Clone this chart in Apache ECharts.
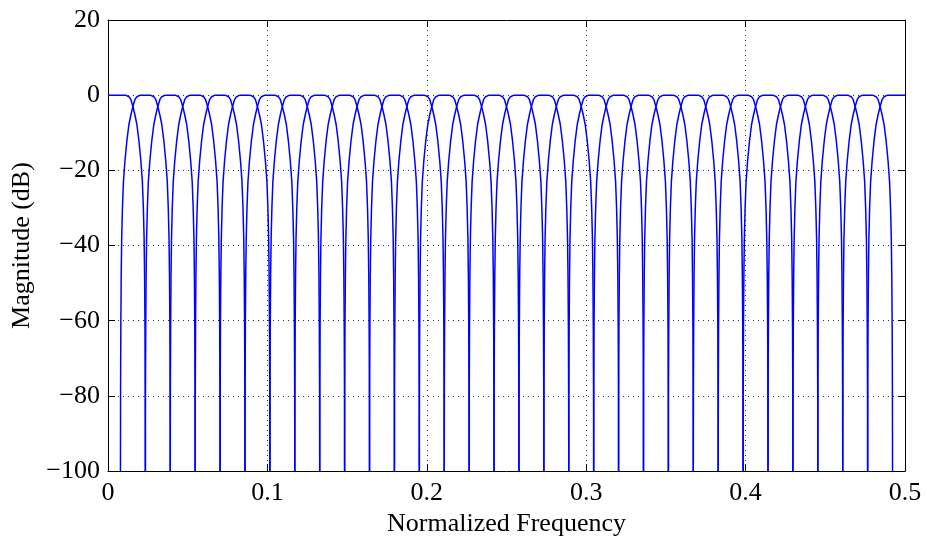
<!DOCTYPE html>
<html lang="en">
<head>
    <meta charset="UTF-8">
    <title>Filter bank magnitude</title>
    <script src="https://cdn.jsdelivr.net/npm/echarts@6/dist/echarts.min.js"></script>
    <style>
        html, body { margin: 0; padding: 0; background: #fff; }
        #chart { width: 927px; height: 542px; }
    </style>
</head>
<body>
    <div id="chart"></div>
    <script>
    // band edges of the 32 channels (normalized frequency, where neighbours cross)
    var bandEdges = [0, 0.015625, 0.03125, 0.046875, 0.0625, 0.078125, 0.09375, 0.109375,
        0.125, 0.140625, 0.15625, 0.171875, 0.1875, 0.203125, 0.21875, 0.234375,
        0.25, 0.265625, 0.28125, 0.296875, 0.3125, 0.328125, 0.34375, 0.359375,
        0.375, 0.390625, 0.40625, 0.421875, 0.4375, 0.453125, 0.46875, 0.484375, 0.5];

    // shape of one transition edge:
    // offset from the crossing point (positive = into the stopband) and level in dB
    var edgeOffset = [-0.00469, -0.00375, -0.0025, -0.00125, 0, 0.00125, 0.0025, 0.00375,
        0.005, 0.00594, 0.00656, 0.00703, 0.00734, 0.00758, 0.00773, 0.00781];
    var edgeDb = [0, -0.1, -0.4, -1.2, -3, -5.2, -7.8, -12, -17.5, -23, -30, -38, -48, -62, -78, -100];

    var xTicks = ['0', '0.1', '0.2', '0.3', '0.4', '0.5'];
    var yTicks = ['-100', '-80', '-60', '-40', '-20', '0', '20'];

    var font = 'Liberation Serif';
    var fs = 26;

    var series = [];
    for (var k = 0; k < bandEdges.length - 1; k++) {
        var a = bandEdges[k], b = bandEdges[k + 1];
        var pts = [];
        if (k == 0) {
            pts.push([a, 0]);
        } else {
            for (var i = edgeOffset.length - 1; i >= 0; i--) {
                pts.push([a - edgeOffset[i], edgeDb[i]]);
            }
        }
        if (k == bandEdges.length - 2) {
            pts.push([b, 0]);
        } else {
            for (var j = 0; j < edgeOffset.length; j++) {
                pts.push([b + edgeOffset[j], edgeDb[j]]);
            }
        }
        series.push({
            type: 'line',
            data: pts,
            showSymbol: false,
            symbol: 'none',
            animation: false,
            lineStyle: { color: '#0000ff', width: 1.5 },
            z: 5
        });
    }

    var myChart = echarts.init(document.getElementById('chart'));
    var option = {
        backgroundColor: '#fff',
        animation: false,
        grid: { left: 108, right: 22, top: 20, bottom: 69, containLabel: false },
        xAxis: [{
            type: 'value',
            min: 0, max: 0.5, interval: 0.1,
            name: 'Normalized Frequency',
            nameLocation: 'middle',
            nameGap: 39,
            nameTextStyle: { fontFamily: font, fontSize: fs, color: '#000' },
            axisLine: { onZero: false, lineStyle: { color: '#000', width: 1 } },
            axisTick: { inside: true, length: 7, lineStyle: { color: '#000' } },
            axisLabel: {
                margin: 9, fontFamily: font, fontSize: fs, color: '#000',
                formatter: function (v) { return xTicks[Math.round(v * 10)]; }
            },
            splitLine: { show: true, lineStyle: { color: '#333', width: 1, type: [1, 4] } }
        }, {
            type: 'value', position: 'top',
            min: 0, max: 0.5, interval: 0.1,
            axisLine: { onZero: false, lineStyle: { color: '#000', width: 1 } },
            axisTick: { inside: true, length: 7, lineStyle: { color: '#000' } },
            axisLabel: { show: false },
            splitLine: { show: false }
        }],
        yAxis: [{
            type: 'value',
            min: -100, max: 20, interval: 20,
            name: 'Magnitude (dB)',
            nameLocation: 'middle',
            nameGap: 64,
            nameTextStyle: { fontFamily: font, fontSize: fs, color: '#000' },
            axisLine: { onZero: false, lineStyle: { color: '#000', width: 1 } },
            axisTick: { inside: true, length: 7, lineStyle: { color: '#000' } },
            axisLabel: {
                margin: 8, fontFamily: font, fontSize: fs, color: '#000',
                formatter: function (v) { return yTicks[Math.round((v + 100) / 20)].replace('-', '\u2212'); }
            },
            splitLine: { show: true, lineStyle: { color: '#333', width: 1, type: [1, 4] } }
        }, {
            type: 'value', position: 'right',
            min: -100, max: 20, interval: 20,
            axisLine: { onZero: false, lineStyle: { color: '#000', width: 1 } },
            axisTick: { inside: true, length: 7, lineStyle: { color: '#000' } },
            axisLabel: { show: false },
            splitLine: { show: false }
        }],
        series: series
    };
    myChart.setOption(option);
    </script>
</body>
</html>
